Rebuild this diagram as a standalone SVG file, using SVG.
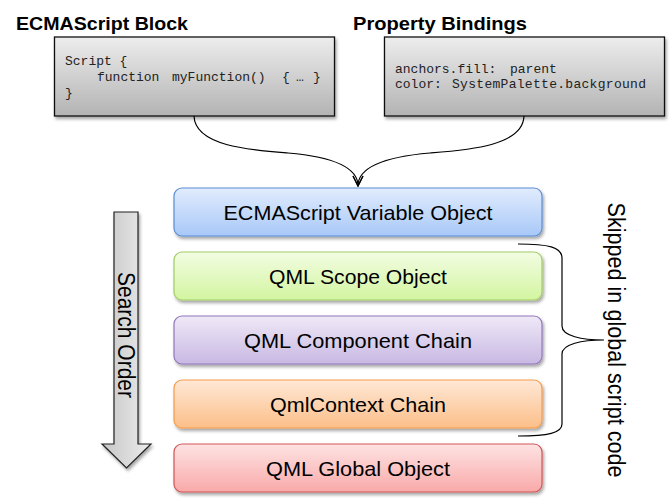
<svg xmlns="http://www.w3.org/2000/svg" width="671" height="501" viewBox="0 0 671 501">
<defs>
  <linearGradient id="gGray" x1="0" y1="0" x2="0" y2="1">
    <stop offset="0" stop-color="#ededed"/><stop offset="1" stop-color="#b3b3b3"/>
  </linearGradient>
  <linearGradient id="gArrow" x1="0" y1="0" x2="1" y2="0">
    <stop offset="0" stop-color="#c6c6c6"/><stop offset="1" stop-color="#ececec"/>
  </linearGradient>
  <linearGradient id="gBlue" x1="0" y1="0" x2="0" y2="1">
    <stop offset="0" stop-color="#e1ecfd"/><stop offset="1" stop-color="#a8c8f8"/>
  </linearGradient>
  <linearGradient id="gGreen" x1="0" y1="0" x2="0" y2="1">
    <stop offset="0" stop-color="#f2fde3"/><stop offset="1" stop-color="#d3f5a0"/>
  </linearGradient>
  <linearGradient id="gPurple" x1="0" y1="0" x2="0" y2="1">
    <stop offset="0" stop-color="#efe9f7"/><stop offset="1" stop-color="#c8b8e3"/>
  </linearGradient>
  <linearGradient id="gOrange" x1="0" y1="0" x2="0" y2="1">
    <stop offset="0" stop-color="#fee8d6"/><stop offset="1" stop-color="#fcbf89"/>
  </linearGradient>
  <linearGradient id="gRed" x1="0" y1="0" x2="0" y2="1">
    <stop offset="0" stop-color="#fee3e3"/><stop offset="1" stop-color="#f9a9a9"/>
  </linearGradient>
  <filter id="shadow" x="-10%" y="-20%" width="125%" height="150%">
    <feDropShadow dx="1.5" dy="2.5" stdDeviation="1.8" flood-color="#000" flood-opacity="0.35"/>
  </filter>
  <marker id="vhead" viewBox="0 0 12 12" refX="11" refY="6" markerWidth="12" markerHeight="12" markerUnits="userSpaceOnUse" orient="auto">
    <path d="M1,1 L11,6 L1,11" fill="none" stroke="#000" stroke-width="1.2"/>
  </marker>
</defs>
<style>
  .title { font-family: "Liberation Sans", Arial, sans-serif; font-weight: bold; font-size: 19px; fill: #000; }
  .code { font-family: "Liberation Mono", "DejaVu Sans Mono", monospace; font-size: 13px; fill: #222; }
  .codebox { fill: url(#gGray); stroke: #111; stroke-width: 1.3; }
  .lbl { font-family: "Liberation Sans", Arial, sans-serif; font-size: 21px; fill: #000; text-anchor: middle; }
  .vlbl { font-family: "Liberation Sans", Arial, sans-serif; font-size: 23px; fill: #000; text-anchor: middle; }
  .conn { fill: none; stroke: #000; stroke-width: 1.2; }
</style>
<rect width="671" height="501" fill="#fff"/>

<g id="ecmascript-block">
  <text class="title" x="16" y="30" textLength="172" lengthAdjust="spacingAndGlyphs">ECMAScript Block</text>
  <rect class="codebox" x="54.5" y="37" width="280" height="79" filter="url(#shadow)"/>
  <text class="code" x="65" y="65">Script {</text>
  <text class="code" y="81"><tspan x="97">function</tspan><tspan x="172">myFunction()</tspan><tspan x="282">{</tspan><tspan x="296">…</tspan><tspan x="313">}</tspan></text>
  <text class="code" x="65" y="97">}</text>
</g>

<g id="property-bindings">
  <text class="title" x="353" y="30" textLength="174" lengthAdjust="spacingAndGlyphs">Property Bindings</text>
  <rect class="codebox" x="384.5" y="37" width="280" height="79" filter="url(#shadow)"/>
  <text class="code" y="73"><tspan x="395">anchors.fill:</tspan><tspan x="510">parent</tspan></text>
  <text class="code" y="88"><tspan x="395">color:</tspan><tspan x="452" textLength="194" lengthAdjust="spacing">SystemPalette.background</tspan></text>
</g>

<g id="connectors">
  <path class="conn" d="M194,116 C195,146 250,150 288,153 C335,157 358,168 358,186" marker-end="url(#vhead)"/>
  <path class="conn" d="M524,116 C523,146 468,150 430,153 C383,157 358,168 358,186" marker-end="url(#vhead)"/>
  <path class="conn" d="M518,244 C548,244 562,247 562,258 L562,326 C562,336 582,340 604,340 C582,340 562,344 562,354 L562,424 C562,433 548,436 518,436"/>
</g>

<g id="search-order">
  <path d="M114,212 L138,212 L138,444 L151,444 L126.5,468 L102,444 L114,444 Z" fill="url(#gArrow)" stroke="#222" stroke-width="1.2" filter="url(#shadow)"/>
  <text class="vlbl" transform="translate(118,335) rotate(90)" x="0" y="0" textLength="126" lengthAdjust="spacingAndGlyphs">Search Order</text>
</g>

<g id="ecmascript-variable-object">
  <rect x="174" y="188" width="368" height="48" rx="8" fill="url(#gBlue)" stroke="#5b8ed4" stroke-width="1.2" filter="url(#shadow)"/>
  <text class="lbl" x="358" y="220" textLength="269" lengthAdjust="spacingAndGlyphs">ECMAScript Variable Object</text>
</g>
<g id="qml-scope-object">
  <rect x="174" y="252" width="368" height="48" rx="8" fill="url(#gGreen)" stroke="#a3cc66" stroke-width="1.2" filter="url(#shadow)"/>
  <text class="lbl" x="358" y="284" textLength="178" lengthAdjust="spacingAndGlyphs">QML Scope Object</text>
</g>
<g id="qml-component-chain">
  <rect x="174" y="316" width="368" height="48" rx="8" fill="url(#gPurple)" stroke="#9277bb" stroke-width="1.2" filter="url(#shadow)"/>
  <text class="lbl" x="358" y="348" textLength="228" lengthAdjust="spacingAndGlyphs">QML Component Chain</text>
</g>
<g id="qmlcontext-chain">
  <rect x="174" y="380" width="368" height="48" rx="8" fill="url(#gOrange)" stroke="#f59c4c" stroke-width="1.2" filter="url(#shadow)"/>
  <text class="lbl" x="358" y="412" textLength="176" lengthAdjust="spacingAndGlyphs">QmlContext Chain</text>
</g>
<g id="qml-global-object">
  <rect x="174" y="444" width="368" height="48" rx="8" fill="url(#gRed)" stroke="#d15756" stroke-width="1.2" filter="url(#shadow)"/>
  <text class="lbl" x="358" y="476" textLength="184" lengthAdjust="spacingAndGlyphs">QML Global Object</text>
</g>

<g id="skipped-label">
  <text class="vlbl" transform="translate(608,340) rotate(90)" x="0" y="0" textLength="275" lengthAdjust="spacingAndGlyphs">Skipped in global script code</text>
</g>
</svg>
